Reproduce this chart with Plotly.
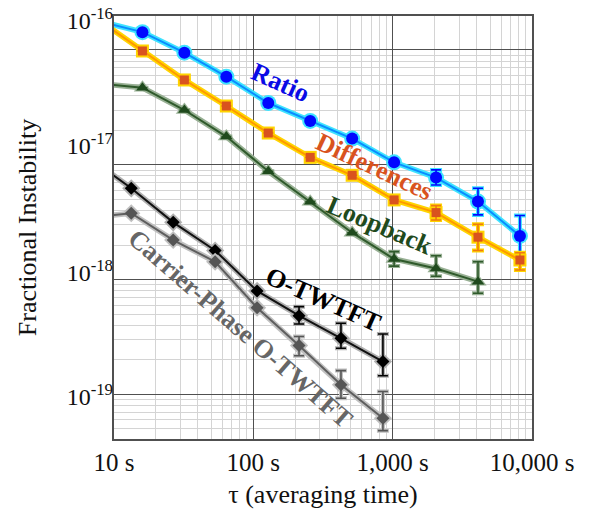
import math
import plotly.graph_objects as go

# ---------------- data ----------------
tau_main = [8, 16, 32, 64, 128, 256, 512, 1024, 2048, 4096, 8192]
ratio = [1.77e-16, 1.43e-16, 9.47e-17, 5.85e-17, 3.45e-17, 2.41e-17,
         1.69e-17, 1.05e-17, 7.73e-18, 4.78e-18, 2.40e-18]
ratio_hi = [None] * 8 + [9.02e-18, 6.24e-18, 3.61e-18]
ratio_lo = [None] * 8 + [6.67e-18, 3.66e-18, 1.58e-18]

differences = [1.78e-16, 9.8e-17, 5.48e-17, 3.25e-17, 1.89e-17, 1.16e-17,
               8.1e-18, 4.94e-18, 3.83e-18, 2.34e-18, 1.48e-18]
diff_hi = [None] * 8 + [4.41e-18, 3.03e-18, 1.71e-18]
diff_lo = [None] * 8 + [3.30e-18, 1.79e-18, 1.21e-18]

tau_loop = [8, 16, 32, 64, 128, 256, 512, 1024, 2048, 4096]
loopback = [5.09e-17, 4.69e-17, 3.0e-17, 1.76e-17, 8.78e-18, 4.77e-18,
            2.56e-18, 1.51e-18, 1.25e-18, 9.59e-19]
loop_hi = [None] * 7 + [1.75e-18, 1.61e-18, 1.43e-18]
loop_lo = [None] * 7 + [1.31e-18, 1.07e-18, 7.6e-19]

tau_otw = [6.65, 13.3, 26.6, 53.2, 106.4, 212.8, 425.6, 851.2]
otwtft = [1.15e-17, 6.24e-18, 3.15e-18, 1.79e-18, 7.96e-19, 4.85e-19,
          3.08e-19, 1.93e-19]
otw_hi = [None] * 5 + [5.81e-19, 4.16e-19, 3.36e-19]
otw_lo = [None] * 5 + [4.10e-19, 2.52e-19, 1.45e-19]

carrier = [3.49e-18, 3.78e-18, 2.21e-18, 1.43e-18, 5.69e-19, 2.66e-19,
           1.21e-19, 6.19e-20]
car_hi = [None] * 5 + [3.19e-19, 1.61e-19, 1.06e-19]
car_lo = [None] * 5 + [2.17e-19, 9.25e-20, 4.83e-20]

x_tick_vals = [10, 100, 1000, 10000]
x_tick_text = ["10 s", "100 s", "1,000 s", "10,000 s"]
y_decades = [1e-20, 1e-19, 1e-18, 1e-17, 1e-16]
# label positions as they appear in the reference (slightly above the grid lines)
y_label_vals = [10 ** -15.745, 10 ** -16.83, 10 ** -17.94, 10 ** -19.02]
y_label_text = ["10<sup>-16</sup>", "10<sup>-17</sup>", "10<sup>-18</sup>", "10<sup>-19</sup>"]

labels = ["Ratio", "Differences", "Loopback", "O-TWTFT", "Carrier-Phase O-TWTFT"]
label_tau = [155.5, 735.6, 812, 316.5, 80.3]
label_val = [5.16e-17, 9.75e-18, 2.98e-18, 6.75e-19, 3.75e-19]
label_angle = [24, 25, 23, 24, 41]
label_color = ["#0a0ae6", "#d9531e", "#1f4a1d", "#000000", "#666666"]

FONT = "Liberation Serif, Times New Roman, serif"


def err(vals, hi, lo):
    up = [(h - v) if h is not None else 0 for v, h in zip(vals, hi)]
    dn = [(v - l) if l is not None else 0 for v, l in zip(vals, lo)]
    return up, dn


series = [
    dict(x=tau_main, y=ratio, hi=ratio_hi, lo=ratio_lo, core="#0a8cff", halo="#3fe3ff",
         mcolor="#0008ff", symbol="circle", msize=12, bar="#0008ff"),
    dict(x=tau_main, y=differences, hi=diff_hi, lo=diff_lo, core="#ff9a00", halo="#ffd400",
         mcolor="#d9531e", symbol="square", msize=9, bar="#f07a10"),
    dict(x=tau_loop, y=loopback, hi=loop_hi, lo=loop_lo, core="#2f5a2b", halo="#98b094",
         mcolor="#1f4a1d", symbol="triangle-up", msize=11, bar="#2f5a2b"),
    dict(x=tau_otw, y=otwtft, hi=otw_hi, lo=otw_lo, core="#111111", halo="#b0b0b0",
         mcolor="#000000", symbol="diamond", msize=10, bar="#000000"),
    dict(x=tau_otw, y=carrier, hi=car_hi, lo=car_lo, core="#5e5e5e", halo="#c0c0c0",
         mcolor="#555555", symbol="diamond", msize=10, bar="#555555"),
]

fig = go.Figure()
for s in series:
    up, dn = err(s["y"], s["hi"], s["lo"])
    # soft halo underneath
    fig.add_trace(go.Scatter(
        x=s["x"], y=s["y"], mode="lines+markers", showlegend=False, hoverinfo="skip",
        line=dict(color=s["halo"], width=5.5),
        marker=dict(symbol=s["symbol"], size=s["msize"] + 4, color=s["halo"]),
        error_y=dict(type="data", symmetric=False, array=up, arrayminus=dn,
                     color=s["halo"], thickness=4, width=6),
    ))
    # core line + markers
    fig.add_trace(go.Scatter(
        x=s["x"], y=s["y"], mode="lines+markers", showlegend=False,
        line=dict(color=s["core"], width=2),
        marker=dict(symbol=s["symbol"], size=s["msize"], color=s["mcolor"]),
        error_y=dict(type="data", symmetric=False, array=up, arrayminus=dn,
                     color=s["bar"], thickness=1.6, width=5),
    ))

# invisible trace so the label-only overlay axis exists
fig.add_trace(go.Scatter(x=[100], y=[1e-18], yaxis="y2", mode="markers",
                         marker=dict(opacity=0), showlegend=False, hoverinfo="skip"))

for txt, t, v, a, c in zip(labels, label_tau, label_val, label_angle, label_color):
    fig.add_annotation(x=math.log10(t), y=math.log10(v), xref="x", yref="y",
                       text="<b>" + txt + "</b>", showarrow=False, textangle=a,
                       font=dict(family=FONT, size=26, color=c))

x_minor = [m * d for d in [10, 100, 1000] for m in range(2, 10)]
y_minor = [m * d for d in y_decades[:-1] for m in range(2, 10)] + [2e-16]

yrange = [-19.389, -15.704]

fig.update_layout(
    width=590, height=511,
    margin=dict(l=114, r=58, t=16, b=72, autoexpand=False),
    paper_bgcolor="white", plot_bgcolor="white",
    font=dict(family=FONT, color="#111111"),
    xaxis=dict(
        type="log", range=[1, 4], tickvals=x_tick_vals, ticktext=x_tick_text,
        automargin=False,
        ticks="", tickfont=dict(family=FONT, size=25, color="#111111"),
        showgrid=True, gridcolor="#505050", gridwidth=1.3,
        minor=dict(tickvals=x_minor, showgrid=True, gridcolor="#d4d4d4", gridwidth=1, ticks=""),
        showline=True, mirror=True, linecolor="#505050", linewidth=1.5,
        zeroline=False,
        title=dict(text="τ (averaging time)", font=dict(family=FONT, size=26, color="#111111"),
                   standoff=10),
    ),
    yaxis=dict(
        type="log", range=yrange, tickvals=y_decades, showticklabels=False, ticks="",
        automargin=False,
        showgrid=True, gridcolor="#505050", gridwidth=1.3,
        minor=dict(tickvals=y_minor, showgrid=True, gridcolor="#d4d4d4", gridwidth=1, ticks=""),
        showline=True, mirror=True, linecolor="#505050", linewidth=1.5,
        zeroline=False,
    ),
    yaxis2=dict(
        type="log", range=yrange, overlaying="y", side="left", anchor="x",
        automargin=False,
        tickvals=y_label_vals, ticktext=y_label_text, ticks="",
        tickfont=dict(family=FONT, size=24, color="#111111"),
        showgrid=False, zeroline=False, showline=False,
        title=dict(text="Fractional Instability", font=dict(family=FONT, size=26, color="#111111"),
                   standoff=22),
    ),
)

fig.write_html("out.html")
